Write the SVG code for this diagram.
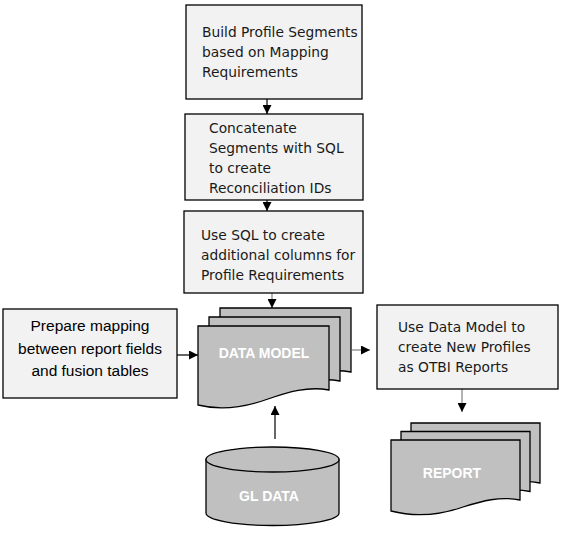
<svg xmlns="http://www.w3.org/2000/svg" width="569" height="534" viewBox="0 0 569 534">
<defs>
<marker id="ah" markerUnits="userSpaceOnUse" markerWidth="9" markerHeight="9" viewBox="0 0 10 10" refX="10" refY="5" orient="auto">
<path d="M0,0 L10,5 L0,10 z" fill="#000"/>
</marker>
<style>
.box{fill:#f2f2f2;stroke:#000;stroke-width:1.3}
.doc{fill:#c0c0c0;stroke:#000;stroke-width:1.3}
.t{font-family:"DejaVu Sans",sans-serif;font-size:13.8px;fill:#1a1a1a}
.c{font-family:"Liberation Sans",Arial,sans-serif;font-size:15.5px;fill:#000;text-anchor:middle}
.w{font-family:"Liberation Sans",Arial,sans-serif;font-size:14px;font-weight:bold;fill:#fff;text-anchor:middle}
.ln{fill:none;stroke:#000;stroke-width:1.2}
.lg{fill:none;stroke:#808080;stroke-width:1.2}
</style>
</defs>
<g id="connectors">
<line class="ln" x1="267" y1="99" x2="267" y2="114" marker-end="url(#ah)"/>
<line class="ln" x1="267" y1="200" x2="267" y2="211" marker-end="url(#ah)"/>
<line class="lg" x1="272" y1="293" x2="272" y2="308" marker-end="url(#ah)"/>
<line class="ln" x1="177" y1="355" x2="198" y2="355" marker-end="url(#ah)"/>
<line class="lg" x1="352" y1="350" x2="370" y2="350" marker-end="url(#ah)"/>
<line class="lg" x1="462" y1="389" x2="462" y2="412" marker-end="url(#ah)"/>
<line class="ln" x1="275" y1="439" x2="275" y2="406" marker-end="url(#ah)"/>
</g>
<g id="build-profile">
<rect class="box" x="186" y="5" width="176" height="94"/>
<text class="t" x="202" y="37">Build Profile Segments</text>
<text class="t" x="202" y="57">based on Mapping</text>
<text class="t" x="202" y="77">Requirements</text>
</g>
<g id="concatenate">
<rect class="box" x="185" y="114" width="178" height="86"/>
<text class="t" x="209" y="133">Concatenate</text>
<text class="t" x="209" y="153">Segments with SQL</text>
<text class="t" x="209" y="173">to create</text>
<text class="t" x="209" y="193">Reconciliation IDs</text>
</g>
<g id="use-sql">
<rect class="box" x="184" y="211" width="179" height="82"/>
<text class="t" x="201" y="240">Use SQL to create</text>
<text class="t" x="201" y="260">additional columns for</text>
<text class="t" x="201" y="280">Profile Requirements</text>
</g>
<g id="prepare-mapping">
<rect class="box" x="3" y="309" width="174" height="89"/>
<text class="c" x="90" y="331">Prepare mapping</text>
<text class="c" x="90" y="354">between report fields</text>
<text class="c" x="90" y="376">and fusion tables</text>
</g>
<g id="data-model">
<path class="doc" d="M220,308 H351 V372 C330,368 310,374 290,381 C265,390 240,392 220,387 Z"/>
<path class="doc" d="M209,317 H340 V381 C319,377 299,383 279,390 C254,399 229,401 209,396 Z"/>
<path class="doc" d="M198,326 H329 V390 C308,386 288,392 268,399 C243,408 218,410 198,405 Z"/>
<text class="w" x="264" y="358">DATA MODEL</text>
</g>
<g id="use-data-model">
<rect class="box" x="377" y="305" width="181" height="84"/>
<text class="t" x="398" y="332">Use Data Model to</text>
<text class="t" x="398" y="352">create New Profiles</text>
<text class="t" x="398" y="372">as OTBI Reports</text>
</g>
<g id="report">
<path class="doc" d="M411,423 H540 V483 C520,479 502,484 483,490 C460,498 434,500 411,494 Z"/>
<path class="doc" d="M401,431.5 H530 V491.5 C510,487.5 492,492.5 473,498.5 C450,506.5 424,508.5 401,502.5 Z"/>
<path class="doc" d="M391,440 H520 V500 C500,496 482,501 463,507 C440,515 414,517 391,511 Z"/>
<text class="w" x="452" y="478">REPORT</text>
</g>
<g id="gl-data">
<path class="doc" d="M206,459.5 V513 A66.5,12.5 0 0 0 339,513 V459.5 Z"/>
<ellipse class="doc" cx="272.5" cy="459.5" rx="66.5" ry="12.5"/>
<text class="w" x="269" y="501">GL DATA</text>
</g>
</svg>
